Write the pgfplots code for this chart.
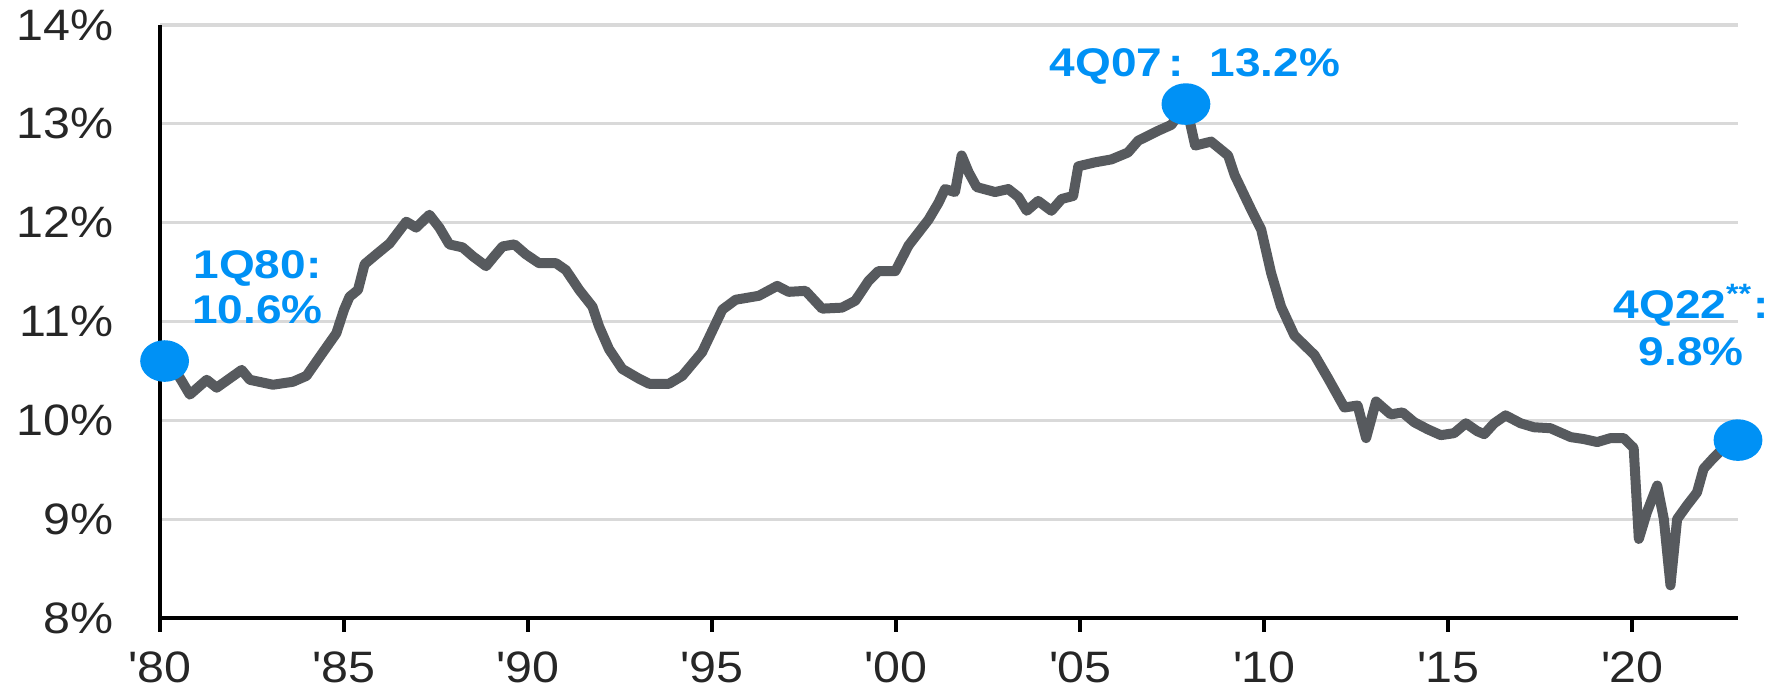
\documentclass[border=0pt]{standalone}
\usepackage{fontspec}
\setmainfont{Liberation Sans}[FakeStretch=1.1]
\newfontfamily\lblfont{Liberation Sans}[FakeStretch=1.15]
\usepackage{pgfplots}
\pgfplotsset{compat=1.18}

\definecolor{linegray}{RGB}{87,90,94}
\definecolor{dotblue}{RGB}{0,145,245}
\definecolor{gridgray}{RGB}{217,217,217}

% Quarterly ratio, decimal year at mid-quarter
\pgfplotstableread{
t v
1980.125 10.60
1980.54 10.43
1980.81 10.26
1981.27 10.41
1981.54 10.33
1982.22 10.51
1982.44 10.41
1983.07 10.36
1983.61 10.39
1983.98 10.45
1984.43 10.69
1984.79 10.88
1985.00 11.12
1985.15 11.25
1985.38 11.32
1985.56 11.58
1985.88 11.68
1986.24 11.79
1986.69 12.01
1986.96 11.95
1987.32 12.08
1987.59 11.95
1987.86 11.78
1988.22 11.75
1988.50 11.66
1988.86 11.56
1989.08 11.66
1989.31 11.76
1989.63 11.78
1989.94 11.68
1990.30 11.59
1990.76 11.59
1991.03 11.52
1991.39 11.32
1991.75 11.15
1991.93 10.95
1992.20 10.72
1992.56 10.52
1993.02 10.42
1993.29 10.37
1993.83 10.37
1994.19 10.45
1994.73 10.69
1995.10 10.98
1995.28 11.12
1995.64 11.22
1996.27 11.26
1996.77 11.36
1997.08 11.30
1997.54 11.31
1997.99 11.13
1998.53 11.14
1998.89 11.21
1999.25 11.41
1999.52 11.51
1999.98 11.51
2000.34 11.77
2000.88 12.03
2001.15 12.20
2001.33 12.34
2001.60 12.31
2001.78 12.68
2001.97 12.51
2002.19 12.36
2002.69 12.31
2003.05 12.34
2003.32 12.26
2003.55 12.12
2003.86 12.22
2004.22 12.12
2004.50 12.24
2004.81 12.27
2004.95 12.57
2005.40 12.61
2005.85 12.64
2006.30 12.71
2006.58 12.83
2007.12 12.93
2007.48 12.99
2007.875 13.20
2008.125 12.78
2008.56 12.82
2009.02 12.68
2009.20 12.48
2009.65 12.13
2009.92 11.93
2010.19 11.49
2010.46 11.15
2010.82 10.86
2011.37 10.66
2011.73 10.43
2012.18 10.13
2012.54 10.15
2012.77 9.82
2013.04 10.19
2013.44 10.06
2013.76 10.08
2014.08 9.98
2014.44 9.91
2014.80 9.85
2015.16 9.87
2015.48 9.97
2015.79 9.89
2015.98 9.86
2016.25 9.97
2016.56 10.05
2016.97 9.97
2017.33 9.93
2017.78 9.92
2018.33 9.83
2018.69 9.81
2019.05 9.78
2019.41 9.82
2019.77 9.82
2020.04 9.72
2020.18 8.80
2020.40 9.07
2020.68 9.34
2020.86 9.00
2021.04 8.33
2021.22 9.00
2021.49 9.14
2021.76 9.27
2021.94 9.51
2022.21 9.62
2022.43 9.70
2022.875 9.80
}\ratiodata

\begin{document}
\begin{tikzpicture}
\begin{axis}[
  scale only axis,
  width=394.5pt, height=148.25pt,
  xmin=1980, xmax=2022.875,
  ymin=8, ymax=14,
  clip=false,
  axis x line*=bottom,
  axis y line*=left,
  axis line style={black, line width=1pt},
  ytick={8,9,...,14},
  yticklabel={\pgfmathprintnumber{\tick}\%},
  /pgf/number format/assume math mode=true,
  ymajorgrids,
  grid style={gridgray, line width=0.8pt},
  xtick={1980,1985,...,2020},
  xticklabels={\textquotesingle80,\textquotesingle85,\textquotesingle90,\textquotesingle95,\textquotesingle00,\textquotesingle05,\textquotesingle10,\textquotesingle15,\textquotesingle20},
  tick align=outside,
  major tick length=3.5pt,
  xtick style={black, line width=1pt},
  ytick style={draw=none},
  tick label style={font=\fontsize{11}{13}\selectfont, text=black!85},
  yticklabel style={anchor=east, inner sep=0pt, xshift=-8pt},
  xticklabel style={yshift=-1.5pt},
]
\addplot[linegray, line width=2.5pt, line join=round, line cap=round, mark=none]
  table[x=t, y=v] {\ratiodata};
\addplot[only marks, mark=*, mark size=5pt, color=dotblue, mark options={xscale=1.18, draw=dotblue, fill=dotblue}]
  coordinates {(1980.125,10.6) (2007.875,13.2) (2022.875,9.8)};

\tikzset{blbl/.style={text=dotblue, font=\lblfont\bfseries\fontsize{10}{12}\selectfont, inner sep=0pt}}
\node[blbl, anchor=base] at (axis cs:1982.65,11.44) {1Q80:};
\node[blbl, anchor=base] at (axis cs:1982.65,10.98) {10.6\%};
\node[blbl, anchor=base west] at (axis cs:2004.15,13.48) {4Q07\,:\ \ 13.2\%};
\node[blbl, anchor=base] at (axis cs:2021.6,11.035) {4Q22\textsuperscript{**}:};
\node[blbl, anchor=base] at (axis cs:2021.6,10.55) {9.8\%};
\end{axis}
\pgfresetboundingbox
\path[use as bounding box]
  ([xshift=-40pt, yshift=-18.25pt]current axis.south west)
  rectangle ([xshift=9.75pt, yshift=6.25pt]current axis.north east);
\end{tikzpicture}
\end{document}
